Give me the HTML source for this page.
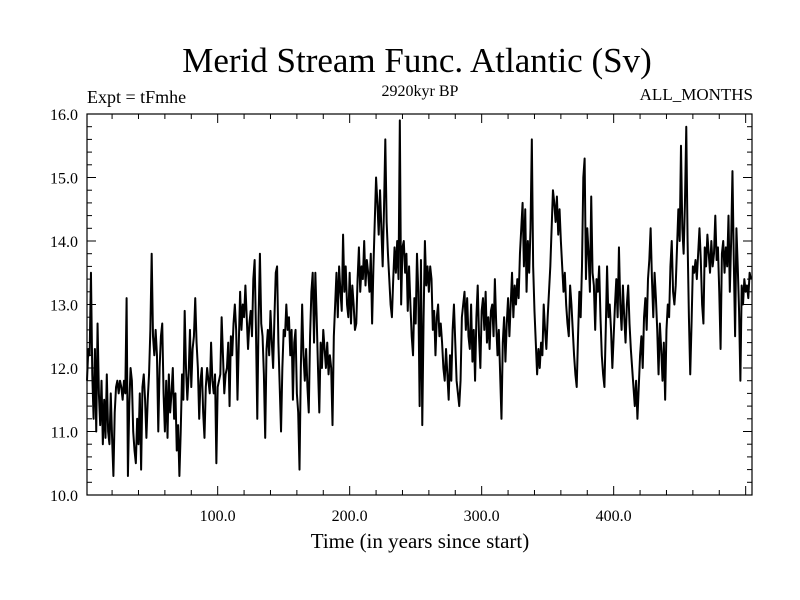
<!DOCTYPE html>
<html><head><meta charset="utf-8"><style>
html,body{margin:0;padding:0;background:#fff}
svg{display:block}
text{font-family:"Liberation Serif",serif;fill:#000}
</style></head><body>
<svg id="chart" width="800" height="600" viewBox="0 0 800 600">
<text x="417" y="72" font-size="35" text-anchor="middle">Merid Stream Func. Atlantic (Sv)</text>
<text x="87" y="103" font-size="18">Expt = tFmhe</text>
<text x="420" y="96" font-size="16" text-anchor="middle">2920kyr BP</text>
<text x="753" y="100" font-size="17" text-anchor="end">ALL_MONTHS</text>
<text x="420" y="548" font-size="21" text-anchor="middle">Time (in years since start)</text>
<g id="axes"></g>
<path id="series" fill="none" stroke="#000" stroke-width="2" stroke-linejoin="round"></path>
<rect x="87" y="114" width="665" height="381" fill="none" stroke="#000" stroke-width="1.2"></rect>
</svg>
<script>
const firstYear = 1;
const values = [11.8,12.3,12.2,13.5,11.9,11.2,12.3,11.0,12.7,11.6,11.1,11.8,10.8,11.5,10.9,11.9,11.0,10.8,11.6,10.9,
10.3,11.3,11.7,11.8,11.6,11.8,11.7,11.5,11.8,11.6,13.1,10.3,11.4,12.0,11.8,11.0,10.7,10.5,11.2,10.8,
11.6,10.4,11.7,11.9,11.5,10.9,11.5,11.9,12.6,13.8,12.5,12.2,12.6,12.2,11.0,12.0,12.5,12.7,11.6,11.0,
11.8,10.9,11.9,11.3,11.6,12.0,11.2,11.6,10.7,11.1,10.3,11.0,11.9,11.5,12.9,12.0,11.5,11.9,12.6,11.7,
12.3,12.5,13.1,12.4,12.0,11.2,11.8,12.0,11.3,10.9,11.7,12.0,11.8,11.6,12.4,11.8,11.6,11.9,10.5,11.7,
11.8,11.9,12.8,12.2,11.6,11.9,12.0,12.4,11.4,12.5,12.2,12.7,13.0,12.6,11.5,12.4,13.2,12.6,13.0,12.8,
13.3,12.8,12.3,12.7,12.9,12.5,13.4,13.7,12.6,11.2,12.8,13.8,12.7,12.5,11.9,10.9,12.3,12.6,12.2,12.9,
12.4,12.0,12.8,13.5,13.6,12.4,11.7,11.0,12.0,12.6,12.5,13.0,12.6,12.8,12.2,12.6,11.5,12.4,12.6,11.6,
11.3,10.4,12.0,13.0,12.2,11.8,12.3,11.7,11.3,12.5,13.2,13.5,12.4,13.5,12.8,12.0,11.3,12.4,12.0,12.6,
12.3,12.0,12.4,11.9,12.2,12.0,11.1,12.5,13.0,13.5,12.8,13.6,13.2,12.9,14.1,13.2,13.6,13.0,12.8,13.5,
12.7,13.3,13.0,12.6,12.7,13.4,13.9,13.2,13.6,13.4,14.0,13.3,13.7,13.5,13.2,13.8,12.7,13.6,14.3,15.0,
14.6,14.1,14.8,14.2,13.6,14.5,15.6,14.3,13.8,13.4,13.0,12.8,13.4,13.9,13.5,14.0,13.4,15.9,13.0,13.9,
14.0,13.5,13.8,12.9,13.6,13.0,12.5,12.2,13.1,12.7,13.8,13.2,11.4,13.7,11.1,12.8,14.0,13.3,13.6,13.2,
13.6,13.4,12.6,12.9,12.2,12.8,13.0,12.5,12.7,12.4,12.0,11.8,12.3,11.9,11.5,12.2,11.8,12.6,13.0,12.4,
11.8,11.6,11.4,11.8,12.8,13.0,13.2,12.6,13.1,12.5,12.3,13.0,12.1,12.6,11.8,12.8,13.3,12.5,12.0,12.9,
13.1,12.6,13.2,12.4,12.8,12.3,12.9,13.0,12.5,13.4,12.7,12.2,12.6,11.9,11.2,12.4,12.8,12.1,12.7,13.1,
12.5,13.0,13.5,12.8,13.3,13.0,13.4,13.1,13.8,14.2,14.6,13.6,14.5,13.2,14.0,13.5,14.2,15.6,13.6,12.9,
12.4,11.9,12.3,12.0,12.4,12.2,13.0,12.6,12.3,12.8,13.2,13.6,14.2,14.8,14.6,14.3,14.7,14.1,14.5,14.0,
13.6,13.2,13.5,13.0,12.7,12.5,13.3,13.0,12.6,12.2,11.9,11.7,12.5,13.2,12.8,13.6,15.0,15.3,13.4,14.2,
13.8,13.2,14.7,13.5,13.3,12.6,13.4,13.2,13.6,12.8,12.2,11.9,11.7,12.6,13.6,12.8,13.0,12.6,12.0,12.5,
13.0,13.4,12.8,13.9,13.0,12.6,13.3,12.8,12.4,13.0,13.3,12.7,12.3,12.0,11.7,11.4,11.8,11.2,11.7,12.2,
12.5,12.0,12.8,13.1,12.6,13.4,13.7,14.2,13.4,12.8,13.5,13.1,12.6,11.9,12.7,12.3,11.8,12.4,11.5,12.6,
13.0,12.8,13.6,14.0,13.2,13.0,13.3,13.9,14.5,14.0,15.5,14.2,13.8,14.6,15.8,14.0,12.8,11.9,12.7,13.6,
13.5,13.7,13.4,13.8,14.2,13.7,13.0,12.7,13.9,13.6,14.1,13.8,13.5,14.0,13.6,13.8,14.4,13.7,13.9,13.2,
12.3,13.8,14.0,13.5,13.9,13.6,14.4,13.2,14.0,15.1,13.7,12.5,14.2,13.6,12.9,11.8,13.3,13.0,13.4,13.2,
13.3,13.1,13.5,13.4];
const xMajorTicks = [100, 200, 300, 400];
const xTickLabels = ["100.0", "200.0", "300.0", "400.0"];
const yMajorTicks = [10, 11, 12, 13, 14, 15, 16];
const yTickLabels = ["10.0", "11.0", "12.0", "13.0", "14.0", "15.0", "16.0"];

const X0 = 87, X1 = 752, Y0 = 495, Y1 = 114;
const xMin = 1, xMax = 504.8, yMin = 10, yMax = 16;
function xs(t){ return X0 + (t - xMin) / (xMax - xMin) * (X1 - X0); }
function ys(v){ return Y0 - (v - yMin) / (yMax - yMin) * (Y0 - Y1); }

const NS = "http://www.w3.org/2000/svg";
const axes = document.getElementById('axes');
function line(x1,y1,x2,y2,name){
  const l = document.createElementNS(NS,'line');
  l.setAttribute('x1',x1);l.setAttribute('y1',y1);l.setAttribute('x2',x2);l.setAttribute('y2',y2);
  l.setAttribute('stroke','#000');l.setAttribute('stroke-width','1');
  
  
  axes.appendChild(l);
}
function label(x,y,txt,anchor,name){
  const t = document.createElementNS(NS,'text');
  t.setAttribute('x',x);t.setAttribute('y',y);t.setAttribute('font-size','16');
  t.setAttribute('text-anchor',anchor);t.textContent = txt;
  
  
  axes.appendChild(t);
}
// x ticks
for (let t = 20; t < xMax; t += 20) {
  const major = t % 100 === 0;
  const len = major ? 9 : 5;
  line(xs(t), Y0, xs(t), Y0 - len, 'x-tick');
  line(xs(t), Y1, xs(t), Y1 + len, 'x-tick-top');
}
xMajorTicks.forEach((t,i) => label(xs(t), Y0 + 26, xTickLabels[i], 'middle', 'x-tick-label'));
// y ticks
for (let k = 0; k <= 30; k++) {
  const v = yMin + k * 0.2;
  const len = (k % 5 === 0) ? 9 : 5;
  line(X0, ys(v), X0 + len, ys(v), 'y-tick');
  line(X1, ys(v), X1 - len, ys(v), 'y-tick-right');
}
yMajorTicks.forEach((v,i) => label(X0 - 9, ys(v) + 6, yTickLabels[i], 'end', 'y-tick-label'));
// series
let d = '';
values.forEach((v,i) => { d += (i ? 'L' : 'M') + xs(firstYear + i).toFixed(2) + ' ' + ys(v).toFixed(2); });
document.getElementById('series').setAttribute('d', d);
</script>
</body></html>
